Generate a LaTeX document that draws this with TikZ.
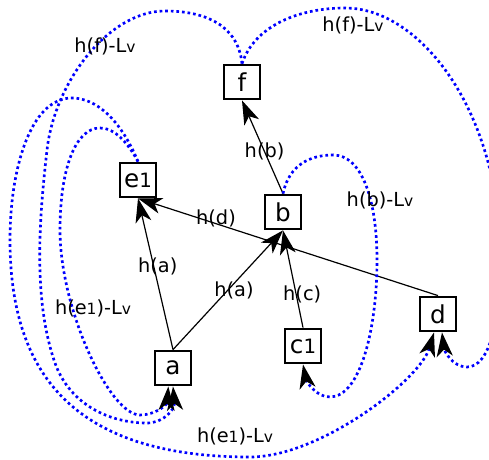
\documentclass[tikz,border=0pt]{standalone}
\usepackage{fontspec}
\setmainfont{DejaVu Sans}
\usetikzlibrary{arrows.meta}
\definecolor{hopblue}{RGB}{0,0,255}
\newcommand{\lowsc}[1]{\scalebox{0.8}{#1}}

\begin{document}
\begin{tikzpicture}[x=0.75pt, y=-0.75pt,
  vbox/.style={rectangle, draw=black, line width=1.6pt, minimum width=27pt,
    minimum height=26pt, inner sep=0pt, font=\fontsize{18.5}{20}\selectfont},
  lbl/.style={inner sep=0pt, font=\fontsize{14.5}{17}\selectfont},
  arr/.style={-{Stealth[length=18pt, width=12pt, inset=5pt]}, line width=0.9pt},
  hop/.style={-{Stealth[length=18pt, width=12pt, inset=5pt, color=black]}, hopblue,
    line width=2pt, dash pattern=on 2pt off 2.2pt}]
\useasboundingbox (0,0) rectangle (489,460);
\node[vbox] (f) at (242,82) {f};
\node[vbox] (e1) at (138,180) {e\lowsc{1}};
\node[vbox] (b) at (283,212) {b};
\node[vbox] (a) at (173,368) {a};
\node[vbox] (c1) at (303,346) {c\lowsc{1}};
\node[vbox] (d) at (438,314) {d};
\draw[arr] (b.north) -- node[lbl, pos=0.45] {h(b)} (f.south);
\draw[arr] (a.north) -- node[lbl, pos=0.55, xshift=3pt] {h(a)} (e1.south);
\draw[arr] (a.north) -- node[lbl, pos=0.5, xshift=4.5pt] {h(a)} (b.south);
\draw[arr] (c1.north) -- node[lbl, pos=0.34, xshift=4.5pt] {h(c)} (b.south);
\draw[arr] (d.north) -- node[lbl, pos=0.74, yshift=4pt] {h(d)} (e1.south);
\draw[hop] (f.north) .. controls (238,25) and (205,11) .. (165,11)
  .. controls (110,11) and (55,80) .. (47,150)
  .. controls (39,220) and (33,300) .. (55,363)
  .. controls (70,405) and (110,423) .. (147,423)
  .. controls (163,423) and (175,410) .. (a.south);
\draw[hop] (e1.north) .. controls (128,143) and (115,128) .. (100,128)
  .. controls (75,128) and (60,170) .. (60,230)
  .. controls (60,310) and (110,415) .. (140,415)
  .. controls (155,415) and (167,405) .. ([xshift=-3.5pt]a.south);
\draw[hop] (e1.north) .. controls (120,118) and (95,98) .. (72,98)
  .. controls (30,98) and (10,170) .. (10,240)
  .. controls (10,370) and (70,457) .. (250,457)
  .. controls (320,457) and (420,380) .. ([xshift=-3pt]d.south);
\draw[hop] (b.north) .. controls (289,165) and (310,155) .. (333,155)
  .. controls (362,155) and (377,200) .. (377,260)
  .. controls (377,330) and (360,397) .. (330,397)
  .. controls (315,397) and (306,380) .. (c1.south);
\draw[hop] (f.north) .. controls (255,25) and (300,8) .. (345,8)
  .. controls (420,8) and (498,110) .. (500,250)
  .. controls (501,320) and (490,367) .. (467,367)
  .. controls (452,367) and (444,350) .. ([xshift=3pt]d.south);
\node[lbl] (lfa) at (105,46) {h(f)-L\lowsc{v}};
\node[lbl] (lfd) at (353,25) {h(f)-L\lowsc{v}};
\node[lbl] (lea) at (93,308) {h(e\lowsc{1})-L\lowsc{v}};
\node[lbl] (led) at (235,436) {h(e\lowsc{1})-L\lowsc{v}};
\node[lbl] (lbc) at (380,200) {h(b)-L\lowsc{v}};
\end{tikzpicture}
\end{document}
